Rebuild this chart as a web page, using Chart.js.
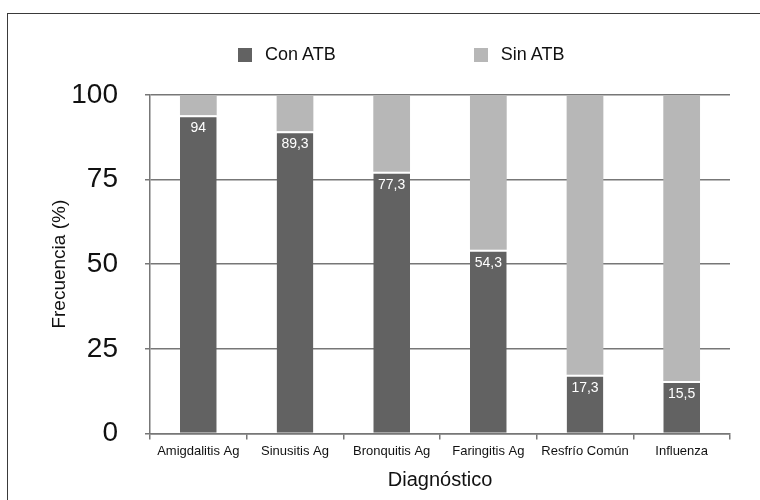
<!DOCTYPE html>
<html lang="es">
<head>
  <meta charset="UTF-8">
  <title>Frecuencia por diagnóstico</title>
  <script src="https://cdn.jsdelivr.net/npm/chart.js"></script>
  <style>
    body {
      margin: 0;
      padding: 0;
      background: #fff;
      font-family: "Liberation Sans", Arial, sans-serif;
    }
    #frame {
      position: absolute;
      left: 7px;
      top: 13px;
      width: 800px;
      height: 540px;
      border: 1.5px solid #3a3a3a;
      box-sizing: border-box;
    }
    #chartContainer {
      position: absolute;
      left: 0;
      top: 0;
      width: 760px;
      height: 500px;
    }
    #legend {
      position: absolute;
      top: 44px;
      left: 238px;
      display: flex;
      font-size: 18px;
      color: #111;
    }
    .item {
      display: flex;
      align-items: center;
      margin-right: 138px;
    }
    .box {
      width: 14px;
      height: 14px;
      margin-right: 13px;
    }
  </style>
</head>
<body>
  <div id="frame"></div>
  <div id="chartContainer">
    <canvas id="chart" width="760" height="500"></canvas>
  </div>
  <div id="legend"></div>

  <script>
    // Data
    const diagnosticos = ["Amigdalitis Ag", "Sinusitis Ag", "Bronquitis Ag", "Faringitis Ag", "Resfrío Común", "Influenza"];
    const conATB = [94, 89.3, 77.3, 54.3, 17.3, 15.5];
    const sinATB = [6, 10.7, 22.7, 45.7, 82.7, 84.5];
    const yTicks = [0, 25, 50, 75, 100];

    const seriesNames = ["Con ATB", "Sin ATB"];
    const seriesColors = ["#626262", "#b7b7b7"];

    // HTML legend
    const legend = document.getElementById("legend");
    seriesNames.forEach((name, i) => {
      const item = document.createElement("div");
      item.className = "item";
      item.innerHTML = `<span class="box" style="background:${seriesColors[i]}"></span><span>${name}</span>`;
      legend.appendChild(item);
    });

    // white value labels at the top of the dark bars
    const valueLabels = {
      id: "valueLabels",
      afterDatasetsDraw(chart) {
        const ctx = chart.ctx;
        const meta = chart.getDatasetMeta(0);
        ctx.save();
        ctx.fillStyle = "#ffffff";
        ctx.font = "14px 'Liberation Sans', Arial, sans-serif";
        ctx.textAlign = "center";
        ctx.textBaseline = "top";
        meta.data.forEach((bar, i) => {
          const txt = String(conATB[i]).replace(".", ",");
          ctx.fillText(txt, bar.x, bar.y + 6);
        });
        ctx.restore();
      }
    };

    const ctx = document.getElementById("chart").getContext("2d");
    new Chart(ctx, {
      type: "bar",
      data: {
        labels: diagnosticos,
        datasets: [
          {
            label: seriesNames[0],
            data: conATB,
            backgroundColor: seriesColors[0],
            borderColor: "#ffffff",
            borderWidth: { top: 2, left: 0, right: 0, bottom: 0 },
            borderSkipped: false,
            barPercentage: 0.38,
            categoryPercentage: 1
          },
          {
            label: seriesNames[1],
            data: sinATB,
            backgroundColor: seriesColors[1],
            borderWidth: 0,
            barPercentage: 0.38,
            categoryPercentage: 1
          }
        ]
      },
      options: {
        responsive: false,
        animation: false,
        layout: { padding: { left: 48, right: 30, top: 95, bottom: 8 } },
        plugins: {
          legend: { display: false },
          tooltip: { enabled: false }
        },
        scales: {
          x: {
            stacked: true,
            grid: { display: true, drawOnChartArea: false, color: "#777", lineWidth: 1.5, tickLength: 6 },
            border: { display: true, color: "#777", width: 1.5 },
            ticks: { color: "#111", font: { family: "'Liberation Sans', Arial", size: 13 }, padding: 4, maxRotation: 0 },
            title: { display: true, text: "Diagnóstico", color: "#111", font: { family: "'Liberation Sans', Arial", size: 20 }, padding: { top: 5, bottom: 0 } }
          },
          y: {
            stacked: true,
            min: 0,
            max: 100,
            afterBuildTicks(scale) { scale.ticks = yTicks.map(v => ({ value: v })); },
            afterFit(scale) { scale.width = 102; },
            grid: { color: "#777", lineWidth: 1.5, tickLength: 5 },
            border: { display: true, color: "#777", width: 1.5 },
            ticks: { color: "#111", font: { family: "'Liberation Sans', Arial", size: 28 }, padding: 27 },
            title: { display: true, text: "Frecuencia (%)", color: "#111", font: { family: "'Liberation Sans', Arial", size: 19 }, padding: { top: 0, bottom: 0 } }
          }
        }
      },
      plugins: [valueLabels]
    });
  </script>
</body>
</html>
